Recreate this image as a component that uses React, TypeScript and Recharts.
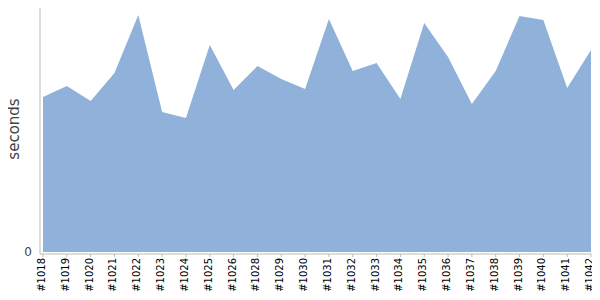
import React from "react";
import { AreaChart, Area, XAxis, YAxis } from "recharts";

const builds = [
  "#1018", "#1019", "#1020", "#1021", "#1022", "#1023", "#1024", "#1025",
  "#1026", "#1028", "#1029", "#1030", "#1031", "#1032", "#1033", "#1034",
  "#1035", "#1036", "#1037", "#1038", "#1039", "#1040", "#1041", "#1042",
];

const seconds = [
  155, 166, 151, 179, 237, 140, 134, 207,
  162, 186, 173, 163, 233, 181, 189, 153,
  229, 195, 148, 181, 236, 232, 164, 202,
];

const yTicks = [0];

const data = builds.map((name, i) => ({ name, seconds: seconds[i] }));

// rotated build label, centred on its tick
function BuildTick(props: any) {
  const { x, y, payload } = props;
  return (
    <g transform={`translate(${x},${y})`}>
      <text
        transform="rotate(-90)"
        x={1}
        y={0}
        dy="0.2em"
        textAnchor="end"
        fill="#000"
        fontSize={10}
      >
        {payload.value}
      </text>
    </g>
  );
}

function BuildTimeChart() {
  return (
    <div style={{ margin: "-8px", fontFamily: "'DejaVu Sans', sans-serif" }}>
      <AreaChart
        width={600}
        height={300}
        data={data}
        margin={{ top: 4, right: 9, left: 0, bottom: 0 }}
      >
        <XAxis
          dataKey="name"
          interval={0}
          height={46}
          padding={{ left: 3, right: 0 }}
          stroke="#bbbbbb"
          tickSize={3}
          tick={<BuildTick />}
        />
        <YAxis
          width={40}
          domain={[-2, 248]}
          ticks={yTicks}
          tickLine={false}
          stroke="#bbbbbb"
          tick={{ fill: "#444", fontSize: 12 }}
          label={{
            value: "seconds",
            angle: -90,
            position: "insideLeft",
            offset: 14,
            style: { fill: "#444", fontSize: 15, textAnchor: "middle" },
          }}
        />
        <Area
          type="linear"
          dataKey="seconds"
          stroke="none"
          fill="#8fb1da"
          fillOpacity={1}
          isAnimationActive={false}
        />
      </AreaChart>
    </div>
  );
}

export default function App() {
  return <BuildTimeChart />;
}
